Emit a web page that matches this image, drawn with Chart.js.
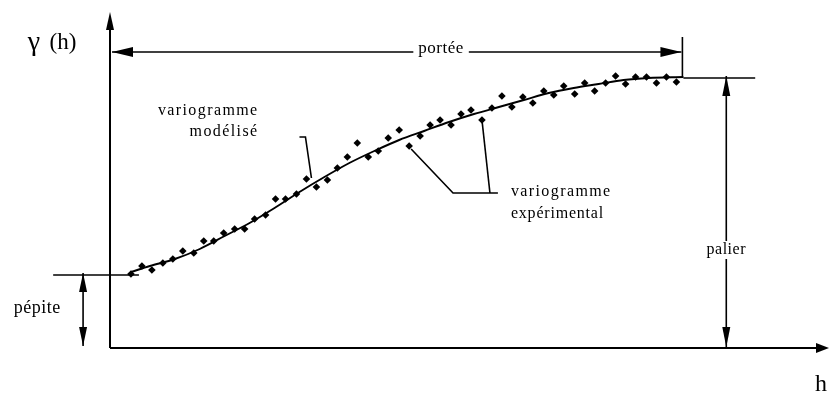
<!DOCTYPE html>
<html>
<head>
<meta charset="utf-8">
<script src="https://cdn.jsdelivr.net/npm/chart.js@4.4.1/dist/chart.umd.min.js"></script>
<style>
  html, body { margin: 0; padding: 0; background: #fff; }
</style>
</head>
<body>
<canvas id="vario_chart" width="832" height="394"></canvas>
<script>
// experimental variogram (lag h, gamma)
const lagH = [2.1, 3.2, 4.2, 5.3, 6.3, 7.3, 8.4, 9.4, 10.4, 11.4, 12.5, 13.5, 14.5, 15.6, 16.6, 17.6, 18.7, 19.7,
  20.7, 21.8, 22.8, 23.8, 24.8, 25.9, 26.9, 27.9, 29.0, 30.0, 31.1, 32.1, 33.1, 34.2, 35.2, 36.2, 37.3, 38.3,
  39.3, 40.3, 41.4, 42.4, 43.5, 44.5, 45.5, 46.6, 47.6, 48.6, 49.7, 50.7, 51.7, 52.7, 53.8, 54.8, 55.8, 56.8];
const gammaExp = [0.74, 0.82, 0.78, 0.85, 0.89, 0.97, 0.95, 1.07, 1.07, 1.15, 1.19, 1.19, 1.29, 1.33, 1.49, 1.49, 1.54, 1.69,
  1.61, 1.68, 1.80, 1.91, 2.05, 1.91, 1.97, 2.10, 2.18, 2.02, 2.12, 2.23, 2.28, 2.23, 2.34, 2.38, 2.28, 2.40,
  2.52, 2.41, 2.51, 2.45, 2.57, 2.53, 2.62, 2.54, 2.65, 2.57, 2.65, 2.72, 2.64, 2.71, 2.71, 2.65, 2.71, 2.66];

// fitted model curve
const modelH = [2.1, 4.0, 6.5, 9.0, 11.5, 14.0, 16.5, 19.0, 21.5, 24.0, 26.5, 29.0, 31.5, 34.0, 36.5, 39.0,
  41.5, 44.0, 46.5, 49.0, 51.5, 54.0, 57.5];
const gammaModel = [0.76, 0.82, 0.89, 0.99, 1.12, 1.25, 1.40, 1.56, 1.71, 1.85, 1.97, 2.08, 2.17, 2.26, 2.34, 2.41,
  2.48, 2.55, 2.60, 2.64, 2.68, 2.70, 2.71];

const nugget = 0.73;
const sill = 2.70;
const range = 57.4;

const serif = '"Liberation Serif", "DejaVu Serif", serif';

const annotations = {
  id: 'annotations',
  afterDraw(chart) {
    const ctx = chart.ctx;
    const xs = chart.scales.x, ys = chart.scales.y;
    const px = v => xs.getPixelForValue(v);
    const py = v => ys.getPixelForValue(v);

    ctx.save();
    ctx.strokeStyle = '#000';
    ctx.fillStyle = '#000';
    ctx.lineWidth = 1.6;

    const line = (pts) => {
      ctx.beginPath();
      ctx.moveTo(pts[0][0], pts[0][1]);
      for (let i = 1; i < pts.length; i++) ctx.lineTo(pts[i][0], pts[i][1]);
      ctx.stroke();
    };
    // arrow head with tip at (tx,ty) pointing in direction ang
    const head = (tx, ty, ang, len, w) => {
      ctx.save();
      ctx.translate(tx, ty);
      ctx.rotate(ang);
      ctx.beginPath();
      ctx.moveTo(0, 0);
      ctx.lineTo(-len, -w / 2);
      ctx.lineTo(-len, w / 2);
      ctx.closePath();
      ctx.fill();
      ctx.restore();
    };
    const label = (txt, x, y, align, size, spacing) => {
      ctx.font = size + 'px ' + serif;
      ctx.letterSpacing = (spacing || 0) + 'px';
      ctx.textAlign = align;
      ctx.textBaseline = 'middle';
      ctx.fillText(txt, x, y);
    };
    const boxLabel = (txt, x, y, size, spacing) => {
      ctx.font = size + 'px ' + serif;
      ctx.letterSpacing = (spacing || 0) + 'px';
      const w = ctx.measureText(txt).width;
      ctx.fillStyle = '#fff';
      ctx.fillRect(x - w / 2 - 5, y - size / 2 - 1, w + 10, size + 2);
      ctx.fillStyle = '#000';
      label(txt, x, y, 'center', size, spacing);
    };

    // axes
    ctx.lineWidth = 2;
    line([[px(0), py(0)], [px(0), py(3.36) + 10]]);
    head(px(0), py(3.36), -Math.PI / 2, 18, 8);
    line([[px(0), py(0)], [px(72) - 8, py(0)]]);
    head(px(72) + 1, py(0), 0, 13, 10);

    ctx.lineWidth = 1.6;
    // pépite
    line([[px(-5.7), py(nugget)], [px(2.9), py(nugget)]]);
    line([[px(-2.7), py(nugget) - 2], [px(-2.7), py(0) - 2]]);
    head(px(-2.7), py(nugget) - 2, -Math.PI / 2, 19, 8);
    head(px(-2.7), py(0) - 2, Math.PI / 2, 19, 8);
    label('pépite', px(-7.3), py(nugget / 2) - 3, 'center', 18, 0.5);

    // palier
    line([[px(range + 0.1), py(sill)], [px(64.7), py(sill)]]);
    line([[px(61.8), py(sill) - 2], [px(61.8), py(0) - 1]]);
    head(px(61.8), py(sill) - 2, -Math.PI / 2, 20, 8);
    head(px(61.8), py(0) - 1, Math.PI / 2, 20, 8);
    boxLabel('palier', px(61.8), py(0.98), 16, 0.5);

    // portée
    const yr = py(2.96);
    line([[px(0.2), yr], [px(range - 0.1), yr]]);
    head(px(0.2), yr, Math.PI, 21, 10);
    head(px(range - 0.1), yr, 0, 21, 10);
    line([[px(range), py(3.11)], [px(range), py(sill)]]);
    boxLabel('portée', px(33.2), yr - 3, 17, 0.5);

    // variogramme modélisé
    label('variogramme', px(14.9), py(2.37), 'right', 16, 1.4);
    label('modélisé', px(14.9), py(2.16), 'right', 16, 1.4);
    line([[px(19.0), py(2.11)], [px(19.6), py(2.11)], [px(20.2), py(1.70)]]);

    // variogramme expérimental
    label('variogramme', px(40.2), py(1.56), 'left', 16, 1.4);
    label('expérimental', px(40.2), py(1.34), 'left', 16, 0.8);
    line([[px(30.2), py(1.99)], [px(34.4), py(1.55)], [px(38.9), py(1.55)]]);
    line([[px(37.3), py(2.28)], [px(38.1), py(1.55)]]);

    // axis titles
    label('γ', 34, 43, 'center', 28, 0);
    label('(h)', 63, 43, 'center', 23, 0);
    label('h', px(71.3), 385, 'center', 24, 0);

    ctx.restore();
  }
};

new Chart(document.getElementById('vario_chart').getContext('2d'), {
  type: 'scatter',
  data: {
    datasets: [{
      label: 'variogramme expérimental',
      data: lagH.map((h, i) => ({ x: h, y: gammaExp[i] })),
      pointStyle: 'rectRot',
      pointRadius: 3.8,
      backgroundColor: '#000',
      borderColor: '#000',
      borderWidth: 0
    }, {
      label: 'variogramme modélisé',
      data: modelH.map((h, i) => ({ x: h, y: gammaModel[i] })),
      showLine: true,
      pointRadius: 0,
      borderColor: '#000',
      borderWidth: 1.9,
      tension: 0.4,
      cubicInterpolationMode: 'monotone'
    }]
  },
  options: {
    responsive: false,
    animation: false,
    layout: { padding: { left: 110, right: 2, top: 12, bottom: 46 } },
    plugins: {
      legend: { display: false },
      tooltip: { enabled: false }
    },
    scales: {
      x: { type: 'linear', min: 0, max: 72, display: false },
      y: { type: 'linear', min: 0, max: 3.36, display: false }
    }
  },
  plugins: [annotations]
});
</script>
</body>
</html>
